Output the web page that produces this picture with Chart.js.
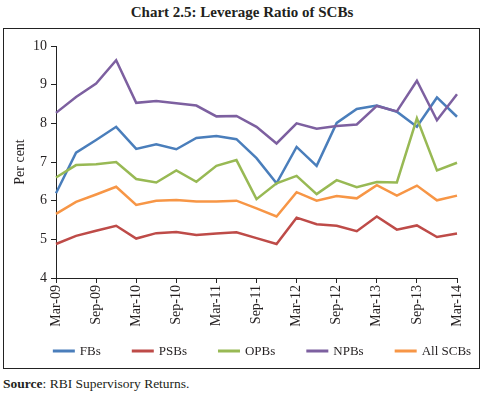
<!DOCTYPE html>
<html>
<head>
<meta charset="utf-8">
<script src="https://cdn.jsdelivr.net/npm/chart.js@4"></script>
<style>
  body { margin: 0; background: #fff; font-family: "Liberation Serif", serif; color: #231f20; }
  #title { position: absolute; left: 0; top: 4px; width: 484px; text-align: center; font-weight: bold; font-size: 15px; }
  #box { position: absolute; left: 3px; top: 28px; width: 477px; height: 341px; box-sizing: border-box; border: 1px solid #222; }
  #chart { position: absolute; left: 0; top: 0; }
  #source { position: absolute; left: 3px; top: 376px; font-size: 13.5px; }
</style>
</head>
<body>
<div id="title">Chart 2.5: Leverage Ratio of SCBs</div>
<div id="box"><canvas id="chart" width="474" height="339"></canvas></div>
<div id="source"><b>Source</b>: RBI Supervisory Returns.</div>
<script>
// quarterly data, Mar-09 .. Mar-14
const quarters = ["Mar-09", "Jun-09", "Sep-09", "Dec-09", "Mar-10", "Jun-10", "Sep-10", "Dec-10",
  "Mar-11", "Jun-11", "Sep-11", "Dec-11", "Mar-12", "Jun-12", "Sep-12", "Dec-12",
  "Mar-13", "Jun-13", "Sep-13", "Dec-13", "Mar-14"];
const seriesNames = ["FBs", "PSBs", "OPBs", "NPBs", "All SCBs"];
const fbs = [6.19, 7.24, 7.57, 7.91, 7.34, 7.46, 7.33, 7.62, 7.67, 7.59, 7.10, 6.45, 7.39, 6.90, 8.01, 8.37, 8.46, 8.30, 7.91, 8.67, 8.17];
const psbs = [4.88, 5.09, 5.22, 5.35, 5.02, 5.16, 5.19, 5.11, 5.15, 5.18, 5.03, 4.88, 5.56, 5.39, 5.35, 5.21, 5.59, 5.25, 5.36, 5.06, 5.15];
const opbs = [6.60, 6.92, 6.94, 7.00, 6.56, 6.47, 6.78, 6.49, 6.90, 7.05, 6.04, 6.45, 6.64, 6.17, 6.53, 6.35, 6.48, 6.47, 8.13, 6.78, 6.98];
const npbs = [8.27, 8.68, 9.03, 9.63, 8.53, 8.58, 8.52, 8.46, 8.18, 8.19, 7.91, 7.48, 8.00, 7.86, 7.93, 7.97, 8.45, 8.31, 9.10, 8.08, 8.75];
const allScbs = [5.66, 5.97, 6.16, 6.36, 5.89, 6.00, 6.02, 5.98, 5.98, 6.00, 5.80, 5.59, 6.22, 6.00, 6.12, 6.06, 6.40, 6.13, 6.39, 6.01, 6.13];
const yTicks = [4, 5, 6, 7, 8, 9, 10];

const colors = ["#4a7ebb", "#be4b48", "#98b954", "#7d60a0", "#f79646"];
const allSeries = [fbs, psbs, opbs, npbs, allScbs];
const FONT = "'Liberation Serif', serif";

const datasets = allSeries.map((vals, i) => ({
  label: seriesNames[i],
  data: vals,
  borderColor: colors[i],
  backgroundColor: colors[i],
  borderWidth: 2.5,
  pointRadius: 0,
  tension: 0,
  order: allSeries.length - i // later series drawn on top
}));

// legend drawn by hand so spacing matches the Excel one
const lineLegend = {
  id: "lineLegend",
  afterDraw(chart) {
    const ctx = chart.ctx;
    const y = 322, lineW = 22, gap = 31, cx = 258;
    ctx.save();
    ctx.font = "13px " + FONT;
    ctx.textBaseline = "middle";
    const widths = chart.data.datasets.map(d => lineW + 5 + ctx.measureText(d.label).width);
    const total = widths.reduce((a, b) => a + b, 0) + gap * (widths.length - 1);
    let x = cx - total / 2;
    chart.data.datasets.forEach((d, i) => {
      ctx.fillStyle = d.borderColor;
      ctx.fillRect(x, y - 1.5, lineW, 3);
      ctx.fillStyle = "#231f20";
      ctx.fillText(d.label, x + lineW + 5, y + 1);
      x += widths[i] + gap;
    });
    ctx.restore();
  }
};

new Chart(document.getElementById("chart"), {
  type: "line",
  data: { labels: quarters, datasets: datasets },
  options: {
    responsive: false,
    animation: false,
    layout: { padding: { top: 17, right: 21, bottom: 38, left: 0 } },
    plugins: { legend: { display: false }, tooltip: { enabled: false } },
    scales: {
      x: {
        afterFit(scale) { scale.height = 52; },
        grid: {
          drawOnChartArea: false,
          tickLength: 5,
          tickColor: c => (c.index % 2 === 0 ? "#222" : "rgba(0,0,0,0)")
        },
        border: { color: "#222", width: 1 },
        ticks: {
          autoSkip: false,
          minRotation: 90,
          maxRotation: 90,
          padding: 2,
          color: "#231f20",
          font: { family: FONT, size: 14 },
          callback: (v, i) => (i % 2 === 0 ? quarters[i] : "")
        }
      },
      y: {
        min: 4,
        max: 10,
        afterFit(scale) { scale.width = 52; },
        afterBuildTicks(scale) { scale.ticks = yTicks.map(v => ({ value: v })); },
        grid: { drawOnChartArea: false, tickLength: 5, tickColor: "#222" },
        border: { color: "#222", width: 1 },
        ticks: { padding: 4, color: "#231f20", font: { family: FONT, size: 14 } },
        title: {
          display: true,
          text: "Per cent",
          color: "#231f20",
          font: { family: FONT, size: 14 },
          padding: { top: 8, bottom: 0 }
        }
      }
    }
  },
  plugins: [lineLegend]
});
</script>
</body>
</html>
